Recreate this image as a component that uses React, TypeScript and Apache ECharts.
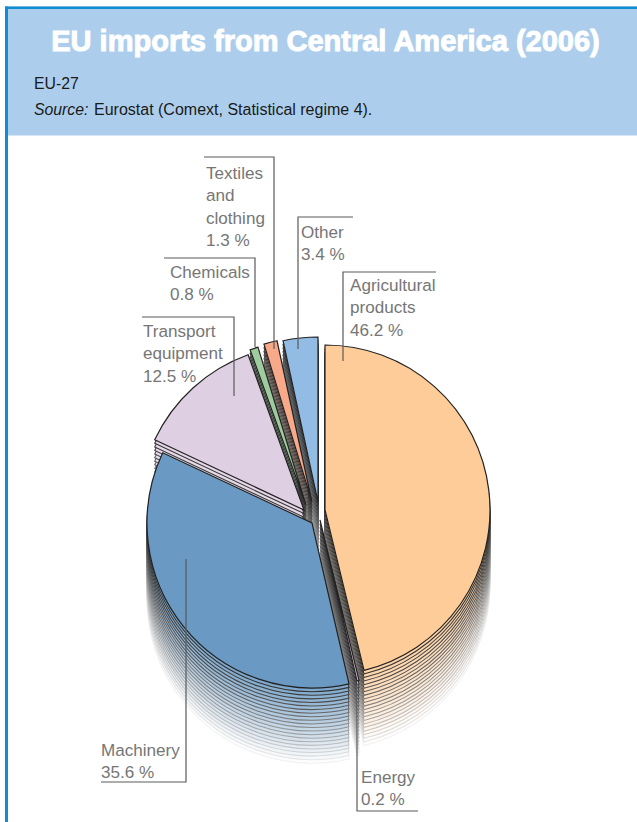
import React, { useEffect, useRef } from "react";
import * as echarts from "echarts";

const titleText = "EU imports from Central America (2006)";
const regionText = "EU-27";
const sourceLead = "Source:";
const sourceText = "Eurostat (Comext, Statistical regime 4).";

// Clockwise from twelve o'clock
const categories = ["Agricultural products", "Energy", "Machinery", "Transport equipment", "Chemicals", "Textiles and clothing", "Other"];
const shares = [46.2, 0.2, 35.6, 12.5, 0.8, 1.3, 3.4];
const colors = ["#fdcc99", "#e3c6e4", "#6a9ac3", "#dfcfe2", "#9fcc9f", "#f7a98a", "#93bce4"];
const labelLines = [
  ["Agricultural", "products"],
  ["Energy"],
  ["Machinery"],
  ["Transport", "equipment"],
  ["Chemicals"],
  ["Textiles", "and", "clothing"],
  ["Other"],
];

// Layout of the exploded slices
const centersX = [325, 320, 312, 304, 306, 312, 318];
const centersY = [510, 520, 523, 510, 505, 502, 502];
const drawOrder = [6, 5, 4, 3, 0, 1, 2];
const labelX = [350, 361, 101, 143, 170, 206, 301];
const labelY = [274, 766, 739, 320, 261, 162, 221];
const leaders = [
  [[436, 272], [343, 272], [343, 361]],
  [[418, 811], [357, 811], [357, 684]],
  [[101, 782], [186, 782], [186, 559]],
  [[142, 317], [234, 317], [234, 396]],
  [[164, 258], [255, 258], [255, 347]],
  [[204, 157], [274, 157], [274, 349]],
  [[353, 217], [298, 217], [298, 349]],
];
const RADIUS = 165;
const LAYERS = 21;
const LAYER_GAP = 3.58;

function mix(a: string, b: string, t: number) {
  const p = (s: string, i: number) => parseInt(s.slice(i, i + 2), 16);
  const c = [1, 3, 5].map((i) => Math.round(p(a, i) * (1 - t) + p(b, i) * t));
  return `rgb(${c[0]},${c[1]},${c[2]})`;
}

export default function App() {
  const ref = useRef<HTMLDivElement>(null);
  useEffect(() => {
    document.body.style.margin = "0";
    document.body.style.overflow = "hidden";
    const chart = echarts.init(ref.current!, null, { renderer: "svg" });
    const total = shares.reduce((a, b) => a + b, 0);
    const starts: number[] = [];
    let acc = 0;
    shares.forEach((s) => {
      starts.push(acc);
      acc += s;
    });
    const angle = (v: number) => (v / total) * Math.PI * 2 - Math.PI / 2;

    const labels = categories.map((_, i) => ({
      type: "text",
      x: labelX[i],
      y: labelY[i],
      z: 20,
      style: {
        text: [...labelLines[i], `${shares[i]} %`].join("\n"),
        fontFamily: "'Liberation Sans', Arial, sans-serif",
        fontSize: 17.1,
        lineHeight: 22.4,
        fill: "#767676",
        textVerticalAlign: "top",
      },
    }));
    const leaderLines = leaders.map((points) => ({
      type: "polyline",
      z: 19,
      shape: { points },
      style: { stroke: "#5a5a5a", lineWidth: 1.2, fill: "none" },
    }));

    chart.setOption({
      animation: false,
      title: {
        text: titleText,
        left: 320.5,
        top: 21,
        textAlign: "center",
        textStyle: {
          color: "#ffffff",
          fontFamily: "'Liberation Sans', Arial, sans-serif",
          fontWeight: "bold",
          fontSize: 29,
          textBorderColor: "#ffffff",
          textBorderWidth: 1,
        },
      },
      graphic: [
        { type: "rect", z: -5, shape: { x: 5, y: 6.5, width: 632, height: 129 }, style: { fill: "#acceec" } },
        { type: "rect", z: -4, shape: { x: 5, y: 6.5, width: 632, height: 2.5 }, style: { fill: "#118dd2" } },
        { type: "rect", z: -4, shape: { x: 5, y: 6.5, width: 3, height: 816 }, style: { fill: "#118dd2" } },
        {
          type: "text",
          x: 34,
          y: 75,
          style: { text: regionText, fontFamily: "'Liberation Sans', Arial, sans-serif", fontSize: 15.8, fill: "#1a1a1a" },
        },
        {
          type: "text",
          x: 34,
          y: 101,
          style: { text: sourceLead, fontFamily: "'Liberation Sans', Arial, sans-serif", fontStyle: "italic", fontSize: 15.8, fill: "#1a1a1a" },
        },
        {
          type: "text",
          x: 94,
          y: 101,
          style: { text: sourceText, fontFamily: "'Liberation Sans', Arial, sans-serif", fontSize: 16, fill: "#1a1a1a" },
        },
        ...leaderLines,
        ...labels,
      ],
      series: [
        {
          type: "custom",
          coordinateSystem: "none",
          silent: true,
          data: drawOrder,
          renderItem: (params: any) => {
            const idx = drawOrder[params.dataIndex];
            const shape = {
              r: RADIUS,
              r0: 0,
              startAngle: angle(starts[idx]),
              endAngle: angle(starts[idx] + shares[idx]),
              clockwise: true,
            };
            const children: any[] = [];
            for (let k = LAYERS; k >= 1; k--) {
              const t = k / LAYERS;
              children.push({
                type: "sector",
                shape: { ...shape, cx: centersX[idx], cy: centersY[idx] + k * LAYER_GAP },
                style: {
                  fill: mix(colors[idx], "#ffffff", 0.1 + 0.88 * t),
                  stroke: mix("#2e2e2e", "#f0f0f0", Math.pow(t, 1.15)),
                  lineWidth: 1.05,
                },
              });
            }
            children.push({
              type: "sector",
              shape: { ...shape, cx: centersX[idx], cy: centersY[idx] },
              style: { fill: colors[idx], stroke: "#222222", lineWidth: 1.2 },
            });
            return { type: "group", children };
          },
        },
      ],
    });
    return () => chart.dispose();
  }, []);
  return <div ref={ref} style={{ position: "absolute", left: 0, top: 0, width: 637, height: 822 }} />;
}
